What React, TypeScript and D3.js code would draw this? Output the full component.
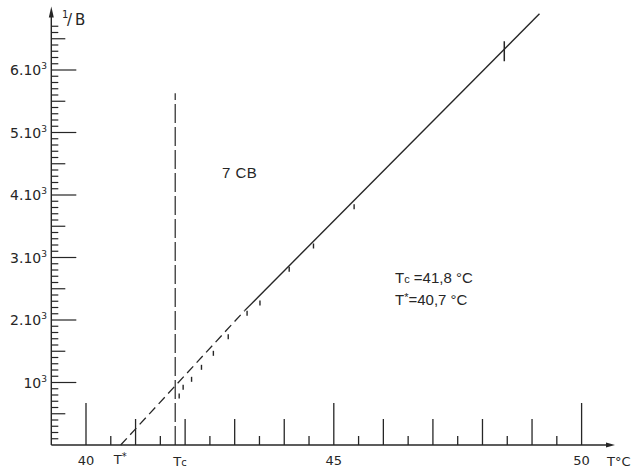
import React from "react";
import * as d3 from "d3";

// ---- data ----
const xTickValues = [40, 40.5, 41, 41.5, 42, 42.5, 43, 43.5, 44, 44.5, 45, 45.5, 46, 46.5, 47, 47.5, 48, 48.5, 49, 49.5, 50];
const xLabelValues = [40, 45, 50];
const yTickValues = d3.range(1, 68).map((i) => i * 100);
const yLabelValues = [1000, 2000, 3000, 4000, 5000, 6000];
const yLabelMain = ["10", "2.10", "3.10", "4.10", "5.10", "6.10"];
const yLabelSup = ["3", "3", "3", "3", "3", "3"];

const Tc = 41.8;
const Tstar = 40.7;

// straight-line fit of 1/B vs T: dashed extrapolation then solid
const fitDashedT = [40.7, 43.2];
const fitDashedV = [0, 2150];
const fitSolidT = [43.2, 49.15];
const fitSolidV = [2150, 6900];

// measured points
const pointT = [41.88, 41.96, 42.13, 42.33, 42.57, 42.87, 43.25, 43.51, 44.1, 44.59, 45.41];
const pointV = [784, 923, 1051, 1243, 1467, 1733, 2107, 2272, 2811, 3184, 3813];
const errPointT = 48.44;
const errPointV = 6300;
const errHalf = 160;

const tcLineTopV = 5630;

const annotation = "7 CB";

const ink = "#262626";
const font = "'Liberation Sans', Arial, sans-serif";
const axisFont = "'DejaVu Sans', sans-serif";

export default function App() {
  const x = d3.scaleLinear().domain([40, 50]).range([86, 581.6]);
  const y = d3.scaleLinear().domain([0, 7000]).range([445, 7.5]);

  const x0 = x(39.3);
  const y0 = y(0);
  const xEnd = 615;
  const yTop = 6.5;

  const line = d3
    .line<[number, number]>()
    .x((d) => x(d[0]))
    .y((d) => y(d[1]));

  const dashedData: [number, number][] = fitDashedT.map((t, i) => [t, fitDashedV[i]]);
  const solidData: [number, number][] = fitSolidT.map((t, i) => [t, fitSolidV[i]]);

  const xTickLen = (v: number) => (v % 5 === 0 ? 42 : Number.isInteger(v) ? 26 : 9);
  const yTickLen = (v: number) => (v % 1000 === 0 ? 25 : v % 500 === 0 ? 14 : 7);

  return (
    <svg
      width={632}
      height={469}
      style={{ position: "absolute", left: 0, top: 0, background: "#fff" }}
      fontFamily={font}
      fill={ink}
    >
      <rect x={0} y={0} width={632} height={469} fill="#fff" />

      {/* axes */}
      <line x1={x0} y1={y0} x2={xEnd - 6} y2={y0} stroke={ink} strokeWidth={1.4} />
      <path d={`M${xEnd},${y0} L${xEnd - 9},${y0 - 2.5} L${xEnd - 9},${y0 + 2.5} Z`} fill={ink} />
      <line x1={x0} y1={y0} x2={x0} y2={yTop + 6} stroke={ink} strokeWidth={1.4} />
      <path d={`M${x0},${yTop} L${x0 - 2.5},${yTop + 11} L${x0 + 2.5},${yTop + 11} Z`} fill={ink} />

      {/* x ticks */}
      {xTickValues.map((v) => (
        <line key={v} x1={x(v)} x2={x(v)} y1={y0} y2={y0 - xTickLen(v)} stroke={ink} strokeWidth={1.3} />
      ))}
      {xLabelValues.map((v) => (
        <text key={v} x={x(v)} y={465} fontSize={13} textAnchor="middle" fontFamily={axisFont}>
          {v}
        </text>
      ))}
      <text x={x(Tstar) - 7} y={464} fontSize={13} fontFamily={axisFont}>
        T<tspan fontSize={10} dy={-4}>*</tspan>
      </text>
      <text x={x(Tc) - 2} y={466} fontSize={13} fontFamily={axisFont}>
        T<tspan fontSize={10}>c</tspan>
      </text>
      <text x={607} y={466} fontSize={13} fontFamily={axisFont}>
        T°C
      </text>

      {/* y ticks */}
      {yTickValues.map((v) => (
        <line key={v} x1={x0} x2={x0 + yTickLen(v)} y1={y(v)} y2={y(v)} stroke={ink} strokeWidth={1.2} />
      ))}
      {yLabelValues.map((v, i) => (
        <text key={v} x={47} y={y(v) + 5} fontSize={14} textAnchor="end" fontFamily={axisFont}>
          {yLabelMain[i]}
          <tspan fontSize={9} dy={-6}>
            {yLabelSup[i]}
          </tspan>
        </text>
      ))}
      <text x={62} y={18} fontSize={10} fontFamily={axisFont}>1</text>
      <text x={67} y={25} fontSize={15} fontFamily={axisFont}>/</text>
      <text x={75} y={25} fontSize={15} fontFamily={axisFont}>B</text>

      {/* Tc vertical dashed line */}
      <line
        x1={x(Tc)}
        x2={x(Tc)}
        y1={y0}
        y2={y(tcLineTopV)}
        stroke={ink}
        strokeWidth={1.2}
        strokeDasharray="19,4"
      />

      {/* fit line */}
      <path d={line(dashedData) ?? ""} fill="none" stroke={ink} strokeWidth={1.3} strokeDasharray="9,5" />
      <path d={line(solidData) ?? ""} fill="none" stroke={ink} strokeWidth={1.4} />

      {/* measured points */}
      {pointT.map((t, i) => (
        <line
          key={i}
          x1={x(t)}
          x2={x(t)}
          y1={y(pointV[i]) - 2.5}
          y2={y(pointV[i]) + 2.5}
          stroke={ink}
          strokeWidth={1.4}
        />
      ))}
      <line
        x1={x(errPointT)}
        x2={x(errPointT)}
        y1={y(errPointV + errHalf)}
        y2={y(errPointV - errHalf)}
        stroke={ink}
        strokeWidth={1.5}
      />

      {/* annotations */}
      <text x={222} y={178} fontSize={15} letterSpacing={0.5}>
        {annotation}
      </text>
      <text x={395} y={283} fontSize={15}>
        T<tspan fontSize={11}>c</tspan> =41,8 °C
      </text>
      <text x={395} y={305} fontSize={15}>
        T<tspan fontSize={11} dy={-4}>*</tspan>
        <tspan dy={4}>=40,7 °C</tspan>
      </text>
    </svg>
  );
}
